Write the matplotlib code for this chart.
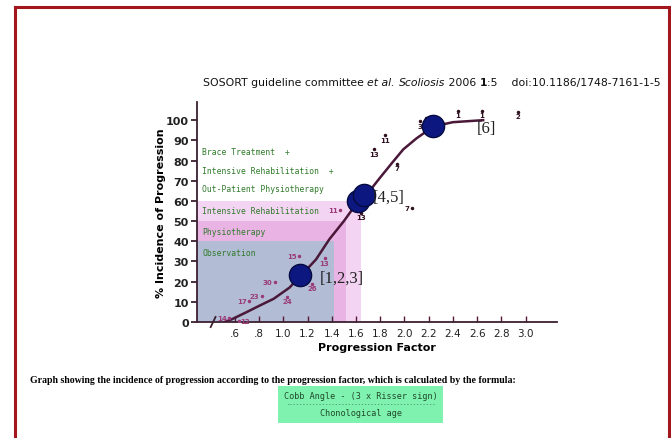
import numpy as np
import matplotlib
matplotlib.use('Agg')
import matplotlib.pyplot as plt
from matplotlib.patches import Rectangle

# curve of incidence vs progression factor
curve_x = [0.52, 0.58, 0.70, 0.80, 0.92, 1.05, 1.15, 1.27, 1.38, 1.50, 1.62, 1.70, 1.80, 1.90, 1.99, 2.10, 2.24, 2.40, 2.65]
curve_y = [0.0, 1.5, 5.0, 8.0, 11.5, 17.0, 23.3, 31.0, 41.0, 50.0, 60.0, 64.0, 71.6, 79.0, 85.5, 91.0, 96.9, 99.0, 100.0]

# big circles + bracket labels
circle_x = [1.14, 1.62, 1.67, 2.24]
circle_y = [23.3, 60.0, 62.9, 96.9]
bracket_labels = ['[1,2,3]', '[4,5]', '[6]']
bracket_x = [1.30, 1.74, 2.60]
bracket_y = [22.0, 62.0, 96.0]

# small data points: lower ones pink, upper ones dark
# side = where the number sits relative to its dot (l = left, r = right, b = below)
pts_low_x = [0.55, 0.63, 0.72, 0.82, 0.93, 1.03, 1.13, 1.24, 1.34, 1.465]
pts_low_y = [2.0, 0.5, 10.4, 13.0, 19.8, 12.5, 32.7, 19.0, 31.5, 55.5]
pts_low_lab = ['14', '12', '17', '23', '30', '24', '15', '26', '13', '11']
pts_low_side = ['l', 'r', 'l', 'l', 'l', 'b', 'l', 'b', 'b', 'l']
pts_hi_x = [1.645, 1.75, 1.84, 1.94, 2.06, 1.585, 2.13, 2.18, 2.44, 2.64, 2.94]
pts_hi_y = [54.0, 85.5, 92.5, 78.5, 56.5, 62.0, 99.5, 101.0, 104.5, 104.5, 104.0]
pts_hi_lab = ['13', '13', '11', '7', '7', '1', '3', '2', '1', '1', '2']
pts_hi_side = ['b', 'b', 'b', 'b', 'l', 'b', 'b', 'b', 'b', 'b', 'b']

# treatment zones: right edge, top
zone_x = [1.64, 1.52, 1.42]
zone_y = [60, 50, 40]
zone_colors = ['#f3d5f3', '#e9b3e3', '#b2bcd5']

treat_labels = ['Brace Treatment  +', 'Intensive Rehabilitation  +', 'Out-Patient Physiotherapy',
                'Intensive Rehabilitation', 'Physiotherapy', 'Observation']
treat_y = [84.5, 75.0, 66.0, 55.0, 45.0, 34.5]

xticks = [0.6, 0.8, 1.0, 1.2, 1.4, 1.6, 1.8, 2.0, 2.2, 2.4, 2.6, 2.8, 3.0]
xticklabels = ['.6', '.8', '1.0', '1.2', '1.4', '1.6', '1.8', '2.0', '2.2', '2.4', '2.6', '2.8', '3.0']
yticks = list(range(0, 101, 10))

W, H = 671, 439
fig = plt.figure(figsize=(W / 100, H / 100), dpi=100)
fig.patch.set_facecolor('white')

# axes placed in pixel coords
ax = fig.add_axes([197 / W, (H - 323) / H, 360 / W, 220 / H])
ax.set_xlim(0.287, 3.26)
ax.set_ylim(0, 109)
ax.set_facecolor('none')
for s in ['top', 'right']:
    ax.spines[s].set_visible(False)
for s in ['left', 'bottom']:
    ax.spines[s].set_color('#3a2030')
    ax.spines[s].set_linewidth(1.3)

for xe, yt, c in zip(zone_x, zone_y, zone_colors):
    ax.add_patch(Rectangle((0.287, 0), xe - 0.287, yt, color=c, zorder=0, lw=0))

for lab, yy in zip(treat_labels, treat_y):
    ax.text(0.33, yy, lab, family='DejaVu Sans Mono', fontsize=5.8, color='#2f7a2a',
            va='center', ha='left')

ax.plot(curve_x, curve_y, color='#4a1838', lw=1.8, zorder=3)
ax.plot(circle_x, circle_y, 'o', ms=16, color='#0c1880', mec='#050a40', mew=1, zorder=4)
for lab, bx, by in zip(bracket_labels, bracket_x, bracket_y):
    ax.text(bx, by, lab, family='Liberation Serif', fontsize=12, color='#222222',
            va='center', ha='left', zorder=5)


def put_points(xs, ys, labs, sides, col):
    ax.plot(xs, ys, '.', ms=3, color=col, zorder=3)
    for lab, px, py, sd in zip(labs, xs, ys, sides):
        if sd == 'l':
            off, ha, va = (-1.5, 0), 'right', 'center'
        elif sd == 'r':
            off, ha, va = (1.5, 0), 'left', 'center'
        else:
            off, ha, va = (0, -1), 'center', 'top'
        ax.annotate(lab, (px, py), xytext=off, textcoords='offset points',
                    fontsize=5, fontweight='bold', color=col, ha=ha, va=va)


put_points(pts_low_x, pts_low_y, pts_low_lab, pts_low_side, '#9a3a78')
put_points(pts_hi_x, pts_hi_y, pts_hi_lab, pts_hi_side, '#301020')

ax.set_xticks(xticks)
ax.set_xticklabels(xticklabels, fontsize=7.5, color='#222222')
ax.tick_params(axis='x', direction='in', length=4, width=1, color='#5a1838', pad=4)
ax.set_yticks(yticks)
ax.set_yticklabels([str(v) for v in yticks], fontsize=8, fontweight='bold', color='#222222')
ax.tick_params(axis='y', direction='out', length=4, width=1.3, color='#3a2030', pad=2)
ax.set_xlabel('Progression Factor', fontsize=8, fontweight='bold', labelpad=3)
ax.set_ylabel('% Incidence of Progression', fontsize=8, fontweight='bold', labelpad=0)

# axis break mark
ax.plot([0.40, 0.44], [-2.5, 2.5], color='#3a2030', lw=1.3, clip_on=False, zorder=5)

# header line, built from pieces so the styles can change
pieces = [('et al.', 'italic', 'normal'),
          (' ', 'normal', 'normal'),
          ('Scoliosis', 'italic', 'normal'),
          (' 2006 ', 'normal', 'normal'),
          ('1', 'normal', 'bold'),
          (':5    doi:10.1186/1748-7161-1-5', 'normal', 'normal')]
prev = fig.text(203 / W, 1 - 86 / H, 'SOSORT guideline committee ', fontsize=7.8,
                va='baseline', ha='left', color='#111111')
for txt, st, wt in pieces:
    prev = ax.annotate(txt, xy=(1, 0), xycoords=prev, va='bottom', ha='left',
                       fontsize=7.8, style=st, fontweight=wt, color='#111111',
                       annotation_clip=False)

# caption + formula box
fig.text(30 / W, 1 - 381 / H,
         'Graph showing the incidence of progression according to the progression factor, which is calculated by the formula:',
         family='Liberation Serif', fontsize=7.1, fontweight='bold', va='center', ha='left')
fig.patches.append(Rectangle((278 / W, 1 - 424 / H), 165 / W, 37 / H, transform=fig.transFigure,
                             facecolor='#80f2b0', edgecolor='none', zorder=1))
fig.text(361 / W, 1 - 397 / H, 'Cobb Angle - (3 x Risser sign)', family='DejaVu Sans Mono',
         fontsize=6.1, color='#1f4a2a', ha='center', va='center')
fig.text(361 / W, 1 - 405 / H, '-' * 46, family='DejaVu Sans Mono', fontsize=3.9,
         color='#1f4a2a', ha='center', va='center')
fig.text(361 / W, 1 - 414 / H, 'Chonological age', family='DejaVu Sans Mono',
         fontsize=6.1, color='#1f4a2a', ha='center', va='center')

# red page border (top, left, right)
red = '#a3161e'
fig.add_artist(plt.Line2D([15 / W, 669 / W], [1 - 8 / H, 1 - 8 / H], transform=fig.transFigure, color=red, lw=2.2))
fig.add_artist(plt.Line2D([15 / W, 15 / W], [0, 1 - 8 / H], transform=fig.transFigure, color=red, lw=2.2))
fig.add_artist(plt.Line2D([669 / W, 669 / W], [0, 1 - 8 / H], transform=fig.transFigure, color=red, lw=2.2))

fig.savefig('out.png', dpi=100)
